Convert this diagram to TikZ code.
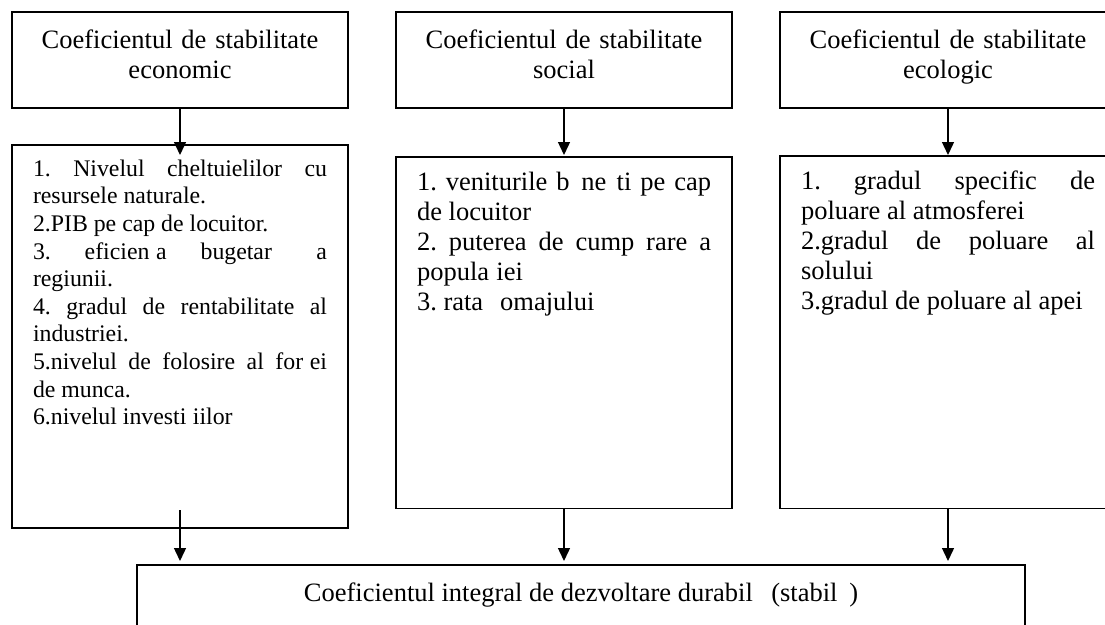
\documentclass[tikz,border=0pt]{standalone}
\usepackage{fontspec}
\setmainfont{Liberation Serif}
\usetikzlibrary{arrows.meta,calc}
\newcommand\bigfnt{\fontsize{26.5pt}{30pt}\selectfont\frenchspacing}
\newcommand\smallfnt{\fontsize{23.8pt}{27.6pt}\selectfont\frenchspacing}
\begin{document}
\begin{tikzpicture}[x=1pt,y=-1pt,
  box/.style={draw,line width=1.6pt,rectangle,outer sep=0pt},
  titlebox/.style={box,minimum width=336pt,minimum height=96pt,text width=300pt,align=center,inner sep=0pt,font=\bigfnt},
  listbox/.style={box,anchor=north west,inner xsep=21pt,inner ysep=12pt},
  arr/.style={line width=1.4pt,-{Triangle[width=12pt,length=13pt]}}]
\clip (0,0) rectangle (1105,624);
% title boxes
\node[titlebox] (t1) at (180,60) {\rule{0pt}{18.5pt}Coeficientul de stabilitate\\ economic\rule[-11.5pt]{0pt}{11.5pt}};
\node[titlebox] (t2) at (564,60) {\rule{0pt}{18.5pt}Coeficientul de stabilitate\\ social\rule[-11.5pt]{0pt}{11.5pt}};
\node[titlebox] (t3) at (948,60) {\rule{0pt}{18.5pt}Coeficientul de stabilitate\\ ecologic\rule[-11.5pt]{0pt}{11.5pt}};
% list boxes
\node[listbox,font=\smallfnt] (l1) at (12,145) {\parbox[t][359pt][t]{294pt}{\tolerance=10000 \hbadness=10000 \strut 1. Nivelul cheltuielilor cu\linebreak resursele naturale.\\ 2.PIB pe cap de locuitor.\\ 3. eficien\phantom{ț}a bugetar\phantom{ă} a\linebreak regiunii.\\ 4. gradul de rentabilitate al\linebreak industriei.\\ 5.nivelul de folosire al for\phantom{ț}ei\linebreak de munca.\\ 6.nivelul investi\phantom{ț}iilor}};
\node[listbox,font=\bigfnt] (l2) at (396,157) {\parbox[t][327.6pt][t]{294pt}{\tolerance=10000 \hbadness=10000 \strut 1. veniturile b\phantom{ă}ne\phantom{ș}ti pe cap\linebreak de locuitor\\ 2. puterea de cump\phantom{ă}rare a\linebreak popula\phantom{ț}iei\\ 3. rata \phantom{ș}omajului}};
\node[listbox,font=\bigfnt] (l3) at (780,156) {\parbox[t][328.6pt][t]{294pt}{\tolerance=10000 \hbadness=10000 \strut 1. gradul specific de\linebreak poluare al atmosferei\\ 2.gradul de poluare al\linebreak solului\\ 3.gradul de poluare al apei}};
% bottom box
\node[box,minimum width=888pt,minimum height=96pt,inner sep=0pt,font=\bigfnt] (bot) at (581,613) {\rule[-44pt]{0pt}{64pt}Coeficientul integral de dezvoltare durabil\phantom{ă} (stabil\phantom{ă})};
% connectors
\draw[arr] (t1.south) -- ($(l1.north)+(0,-10pt)$);
\draw[arr] (t2.south) -- ($(l2.north)+(0,2pt)$);
\draw[arr] (t3.south) -- ($(l3.north)+(0,1pt)$);
\draw[arr] ($(l1.south)+(0,18pt)$) -- ($(l1.south |- bot.north)+(0,4pt)$);
\draw[arr] (l2.south) -- ($(l2.south |- bot.north)+(0,4pt)$);
\draw[arr] (l3.south) -- ($(l3.south |- bot.north)+(0,4pt)$);
\end{tikzpicture}
\end{document}
